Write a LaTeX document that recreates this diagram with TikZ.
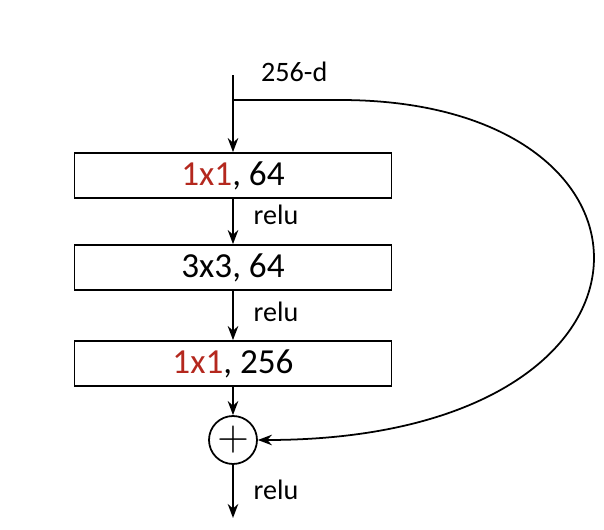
\documentclass[tikz,border=0pt]{standalone}
\usepackage{fontspec}
\setmainfont{Carlito}
\usetikzlibrary{arrows.meta,positioning}
\definecolor{convred}{RGB}{180,40,30}
\tikzset{
  layer/.style={draw,line width=1pt,minimum width=6.34cm,minimum height=0.9cm,inner sep=0pt,font=\fontsize{20}{20}\selectfont},
  arr/.style={line width=1pt,-{Stealth[length=8pt,width=6pt]}},
  lbl/.style={font=\fontsize{16}{16}\selectfont,anchor=west}
}
\begin{document}
\begin{tikzpicture}[]
\useasboundingbox (0,0) rectangle (12.08,10.58);

\coordinate (in) at (4.66,9.08);
\coordinate (split) at (4.66,8.58);
\node[layer] (l1) at (4.66,7.07) {\textcolor{convred}{1x1}, 64};
\node[layer] (l2) at (4.66,5.23) {3x3, 64};
\node[layer] (l3) at (4.66,3.31) {\textcolor{convred}{1x1}, 256};
\node[draw,circle,line width=1pt,minimum size=0.96cm,inner sep=0pt,font=\fontsize{24}{24}\selectfont] (sum) at (4.66,1.78) {$+$};
\coordinate (out) at (4.66,0.22);

\draw[arr] (in) -- (l1);
\draw[arr] (l1) -- (l2);
\draw[arr] (l2) -- (l3);
\draw[arr] (l3) -- (sum);
\draw[arr] (sum) -- (out);

\draw[arr] (split) -- (6.8,8.58) .. controls (13.8,8.58) and (13.8,1.78) .. (sum.east);

\node[lbl] at (5.1,9.14) {256-d};
\node[lbl] at (4.95,6.28) {relu};
\node[lbl] at (4.95,4.34) {relu};
\node[lbl] at (4.95,0.78) {relu};

\end{tikzpicture}
\end{document}
